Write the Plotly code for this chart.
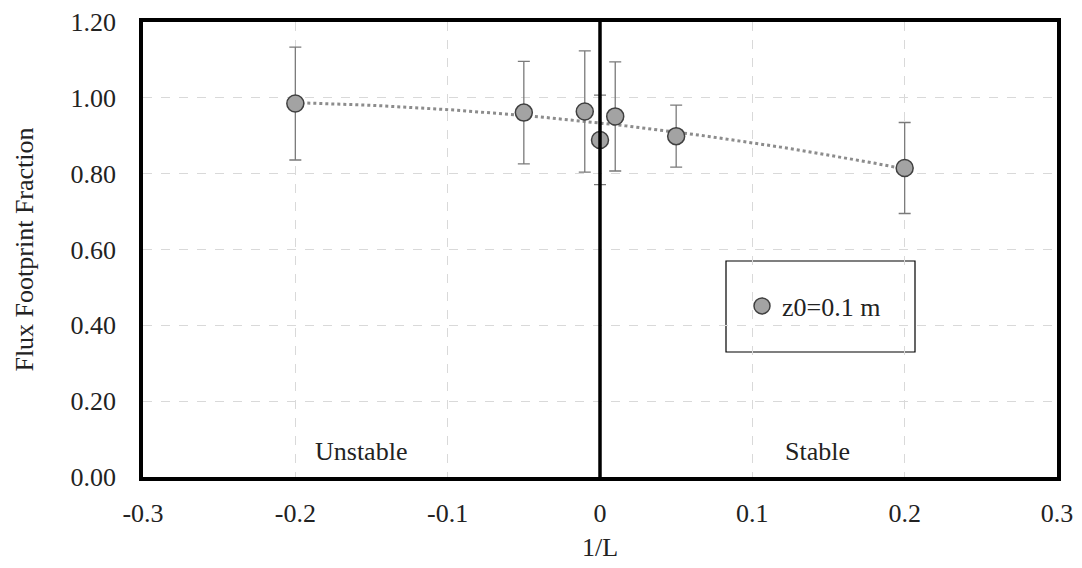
import numpy as np
import plotly.graph_objects as go

inv_L = [-0.2, -0.05, -0.01, 0.0, 0.01, 0.05, 0.2]
fraction = [0.985, 0.961, 0.964, 0.889, 0.951, 0.899, 0.815]
err = [0.149, 0.135, 0.160, 0.118, 0.144, 0.082, 0.120]

x_ticks = [-0.3, -0.2, -0.1, 0.0, 0.1, 0.2, 0.3]
x_tick_text = ["-0.3", "-0.2", "-0.1", "0", "0.1", "0.2", "0.3"]
y_ticks = [0.0, 0.2, 0.4, 0.6, 0.8, 1.0, 1.2]

coef = np.polyfit(inv_L, fraction, 2)
xt = np.linspace(min(inv_L), max(inv_L), 60)
yt = np.polyval(coef, xt)

font_family = "Liberation Serif"
FS = 26

L, T, R, B = 135, 14, 33, 99
pw = 1082 - L - R
ph = 568 - T - B

fig = go.Figure()
fig.add_trace(go.Scatter(
    x=xt, y=yt, mode="lines",
    line=dict(color="#8c8c8c", width=3, dash="dot"),
    showlegend=False, hoverinfo="skip"))
fig.add_trace(go.Scatter(
    x=inv_L, y=fraction, mode="markers", name="z0=0.1 m",
    marker=dict(size=17, color="#a3a3a3", line=dict(color="#404040", width=1.5)),
    error_y=dict(type="data", array=err, visible=True, color="#7a7a7a", thickness=1.3, width=6)))

fig.add_shape(type="line", x0=0, x1=0, y0=0, y1=1.2, xref="x", yref="y",
              line=dict(color="black", width=3.5))
# legend box
fig.add_shape(type="rect", xref="paper", yref="paper",
              x0=(726-143)/pw, x1=(915-143)/pw,
              y0=(477-352)/ph, y1=(477-261)/ph,
              line=dict(color="black", width=1.2), fillcolor="white", layer="below")

fig.add_annotation(x=-0.157, y=0.066, text="Unstable", showarrow=False,
                   font=dict(family=font_family, size=FS, color="#222"))
fig.add_annotation(x=0.143, y=0.066, text="Stable", showarrow=False,
                   font=dict(family=font_family, size=FS, color="#222"))

fig.update_layout(
    width=1082, height=568,
    margin=dict(l=L, r=R, t=T, b=B),
    plot_bgcolor="white", paper_bgcolor="white",
    font=dict(family=font_family, size=FS, color="#222"),
    legend=dict(x=(742-143)/pw, y=(477-306)/ph, xanchor="left", yanchor="middle",
                bgcolor="rgba(0,0,0,0)", font=dict(size=FS, family=font_family),
                itemwidth=30),
    xaxis=dict(range=[-0.3, 0.3], tickvals=x_ticks, ticktext=x_tick_text,
               showgrid=True, gridcolor="#d9d9d9", griddash="dash", gridwidth=1,
               showline=True, linecolor="black", linewidth=3.5, mirror=True,
               zeroline=False, ticks="", ticklabelstandoff=10, automargin=False,
               ticklabeloverflow="allow",
               title=dict(text="1/L", font=dict(size=FS), standoff=12)),
    yaxis=dict(range=[0, 1.2], tickvals=y_ticks, tickformat=".2f",
               showgrid=True, gridcolor="#d9d9d9", griddash="dash", gridwidth=1,
               showline=True, linecolor="black", linewidth=3.5, mirror=True,
               zeroline=False, ticks="", ticklabelstandoff=18, automargin=False,
               ticklabeloverflow="allow",
               title=dict(text="Flux Footprint Fraction", font=dict(size=FS), standoff=30)),
)

fig.write_html("out.html")
